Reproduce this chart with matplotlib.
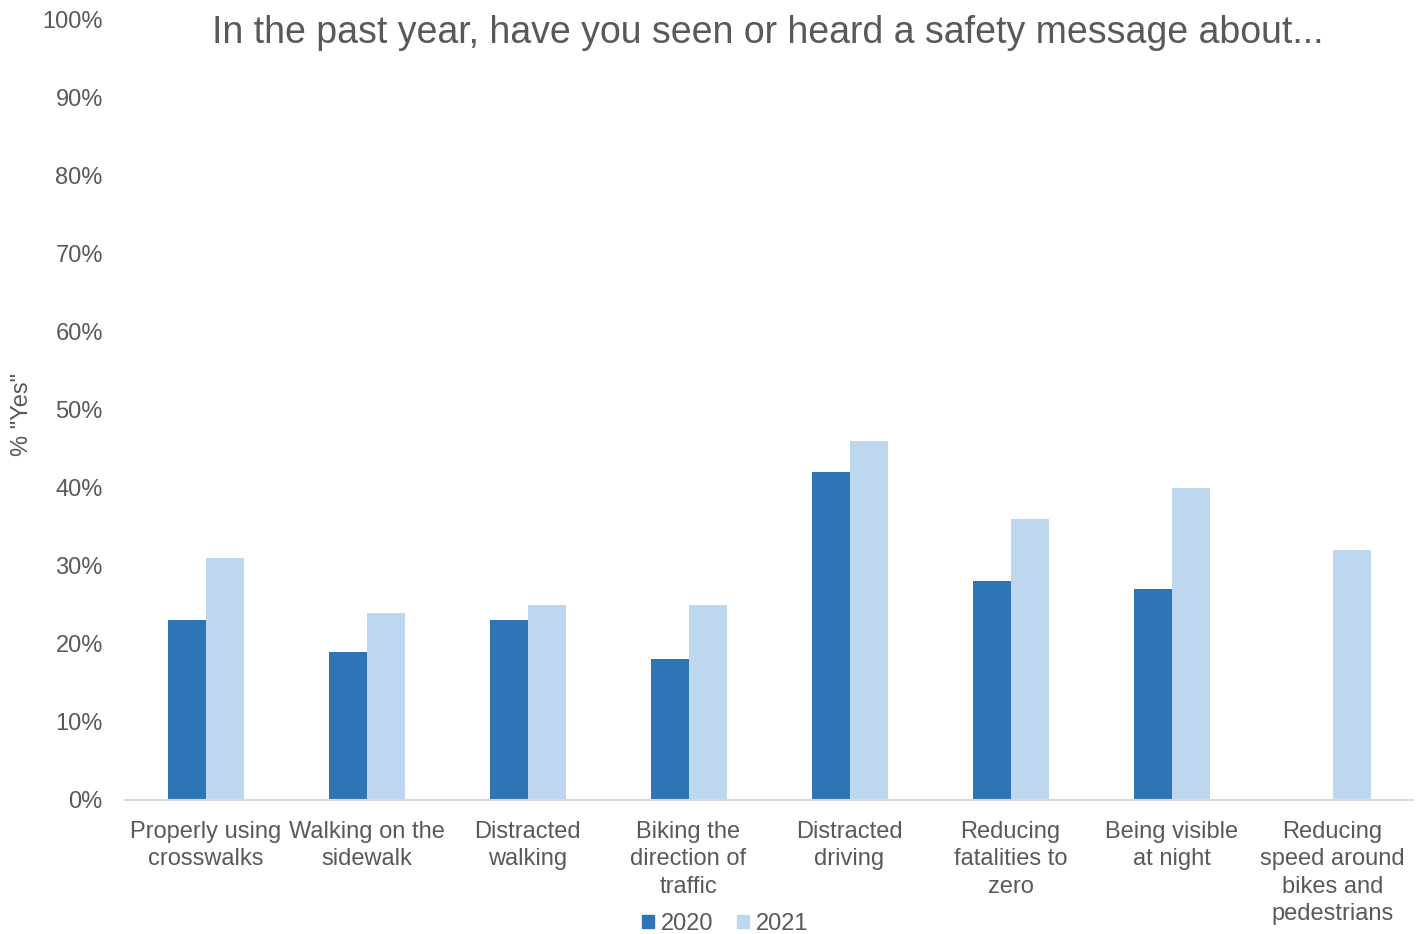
import numpy as np
import matplotlib.pyplot as plt
from matplotlib.ticker import PercentFormatter
from matplotlib.patches import Patch

categories = ["Properly using\ncrosswalks", "Walking on the\nsidewalk", "Distracted\nwalking",
              "Biking the\ndirection of\ntraffic", "Distracted\ndriving", "Reducing\nfatalities to\nzero",
              "Being visible\nat night", "Reducing\nspeed around\nbikes and\npedestrians"]
yes_2020 = [23, 19, 23, 18, 42, 28, 27, np.nan]
yes_2021 = [31, 24, 25, 25, 46, 36, 40, 32]

c2020 = "#2E75B6"
c2021 = "#BDD7EE"
grey = "#595959"

plt.rcParams['font.family'] = ['Liberation Sans', 'DejaVu Sans']

fig = plt.figure(figsize=(14.24, 9.34), dpi=100)
ax = fig.add_axes([125/1424, 1 - 800/934, 1288/1424, 781/934])

x = np.arange(len(categories))
w = 38/161
ax.bar(x - w/2, yes_2020, w, color=c2020)
ax.bar(x + w/2, yes_2021, w, color=c2021)

ax.set_xlim(-0.5, len(categories) - 0.5)
ax.set_ylim(0, 100)
ax.set_yticks(range(0, 101, 10))
ax.yaxis.set_major_formatter(PercentFormatter(decimals=0))
ax.set_xticks(x)
ax.set_xticklabels(categories, linespacing=1.32)
ax.tick_params(axis='both', length=0, labelsize=17, labelcolor=grey)
ax.tick_params(axis='x', pad=15)
ax.tick_params(axis='y', pad=16)
for s in ['top', 'right', 'left']:
    ax.spines[s].set_visible(False)
ax.spines['bottom'].set_color("#D9D9D9")
ax.spines['bottom'].set_linewidth(1.5)

fig.text(22/1424, 1 - 415/934, '% "Yes"', rotation=90, ha='center', va='center',
         fontsize=17, color=grey)
fig.text(768/1424, 1 - 33/934, "In the past year, have you seen or heard a safety message about...",
         ha='center', va='center', fontsize=27, color=grey)

handles = [Patch(color=c2020, label="2020"), Patch(color=c2021, label="2021")]
fig.legend(handles=handles, loc='center', bbox_to_anchor=(725/1424, 1 - 924/934), ncol=2,
           frameon=False, fontsize=17, labelcolor=grey, handlelength=0.5, handleheight=0.5,
           handletextpad=0.3, columnspacing=1.0)

fig.savefig("out.png", dpi=100)
